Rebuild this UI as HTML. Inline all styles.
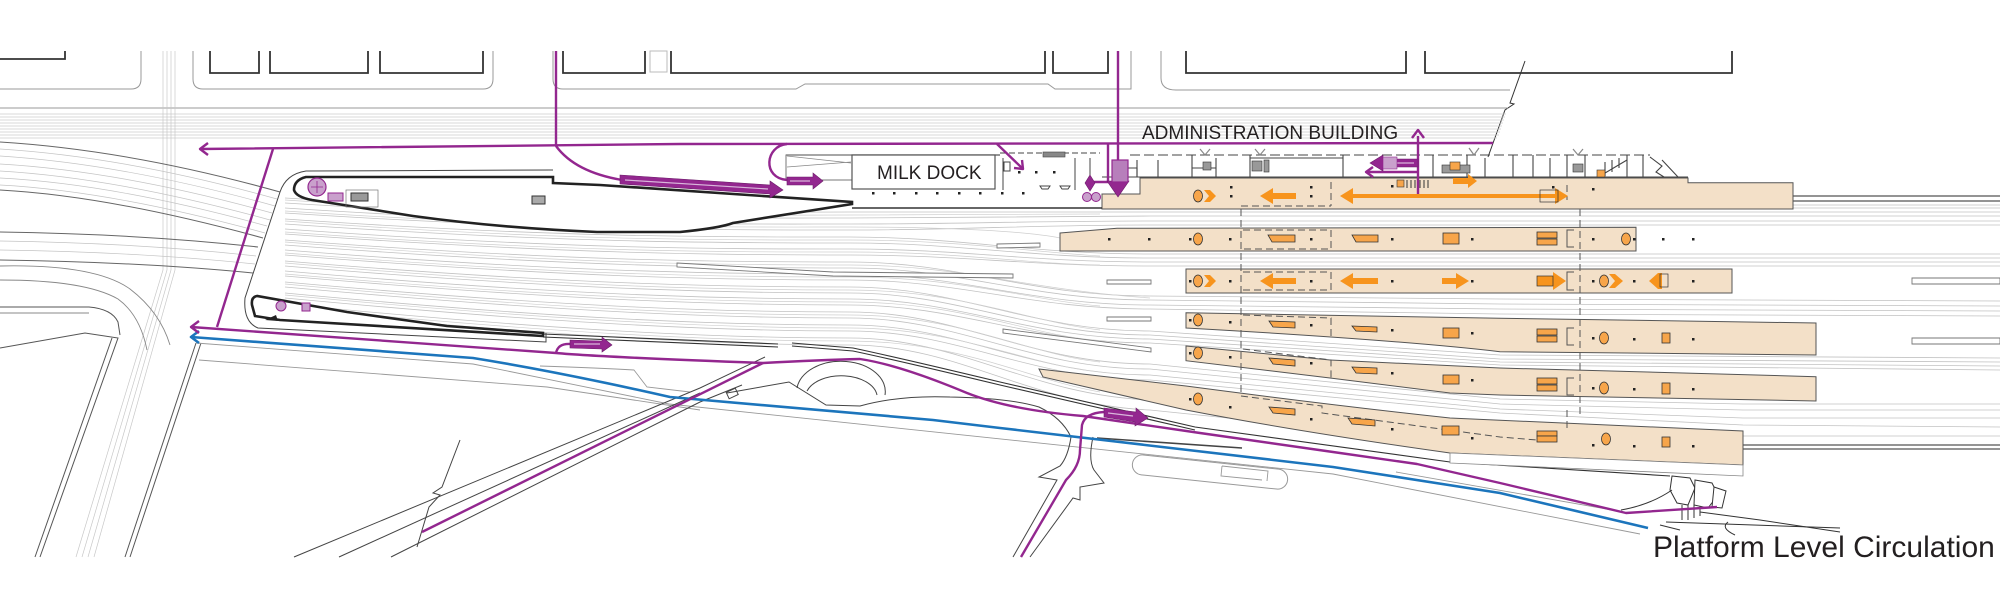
<!DOCTYPE html>
<html><head><meta charset="utf-8"><style>
html,body{margin:0;padding:0;background:#fff;}
svg{display:block}
text{font-family:"Liberation Sans",Arial,sans-serif;fill:#231f20}
</style></head><body>
<svg width="2000" height="593" viewBox="0 0 2000 593" xmlns="http://www.w3.org/2000/svg">
<rect width="2000" height="593" fill="#fff"/>

<!-- top city blocks -->
<g fill="none" stroke="#333" stroke-width="1.8">
<path d="M0,59 H65 V51"/>
<path d="M210,51 V73 H259 V51"/>
<path d="M270,51 V73 H368 V51"/>
<path d="M380,51 V73 H483 V51"/>
<path d="M563,51 V73 H645 V51"/>
<path d="M671,51 V73 H1045 V51"/>
<path d="M1053,51 V73 H1108 V51"/>
<path d="M1186,51 V73 H1406 V51"/>
<path d="M1425,51 V73 H1732 V51"/>
</g>
<rect x="650" y="51" width="17" height="21" fill="none" stroke="#bbb"/>
<g fill="none" stroke="#999" stroke-width="1">
<path d="M0,89 H131 Q141,89 141,79 V51"/>
<path d="M193,51 V79 Q193,89 203,89 H483 Q493,89 493,79 V51"/>
<path d="M553,51 V79 Q553,89 563,89 H796 L805,84 H1048 L1055,89 H1131 V51"/>
<path d="M1161,51 V78 Q1161,90 1176,90 H1510"/>
</g>
<path d="M1525,61 L1510,103 L1514,104 L1505,110 L1488,157" stroke="#333" fill="none" stroke-width="1"/>

<!-- road lanes -->
<path d="M0,108 H1508" stroke="#999" stroke-width="1"/>
<g stroke="#ccc" stroke-width="0.7">
<path d="M0,114 H1506"/><path d="M0,117 H1505"/><path d="M0,120 H1504"/><path d="M0,123 H1503"/>
<path d="M0,126 H1502"/><path d="M0,129 H1501"/><path d="M0,132 H1500"/><path d="M0,135 H1499"/><path d="M0,138 H1497"/>
</g>

<!-- vertical road light lines -->
<g stroke="#c8c8c8" stroke-width="0.7" fill="none">
<path d="M163,51 V270 L76,557"/><path d="M167,51 V270 L82,557"/><path d="M171,51 V270 L88,557"/><path d="M175,51 V270 L94,557"/>
</g>

<!-- road bands (overpass) -->
<g fill="none" stroke="#c4c4c4" stroke-width="0.7">
<path d="M0,149 Q127,157 277,199"/><path d="M0,156 Q124,164 275,206"/><path d="M0,164 Q121,171 272,213"/>
<path d="M0,171 Q118,178 270,220"/><path d="M0,178 Q115,184 267,226"/><path d="M0,185 Q112,191 265,233"/>
<path d="M0,241 Q140,243 256,256"/><path d="M0,250 Q140,252 255,264"/>
</g>
<g fill="none" stroke="#666" stroke-width="1">
<path d="M0,142 Q130,150 280,192"/><path d="M0,190 Q110,196 263,238"/>
<path d="M0,232 Q140,234 258,247"/><path d="M0,260 Q140,262 253,273"/>
</g>

<!-- bottom-left roads -->
<g fill="none" stroke="#888" stroke-width="0.9">
<path d="M0,266 Q95,264 130,289 Q160,312 170,345"/>
<path d="M0,280 Q85,280 118,299 Q140,315 147,350"/>
<path d="M0,313 H89"/>
</g>
<g fill="none" stroke="#555" stroke-width="1">
<path d="M0,307 H89 Q112,309 118,322 L120,335"/>
<path d="M0,348 L85,333 L118,338 L40,557"/>
<path d="M112,338 L35,557"/>
<path d="M196,343 L125,557"/><path d="M201,343 L130,557"/>
</g>

<!-- track fan -->
<g fill="none" stroke="#c2c2c2" stroke-width="0.8">
<path d="M285,198 C560,215 720,212 850,212 C960,212 1030,212 1150,212 L2000,212"/>
<path d="M285,203 C560,220 720,218 850,218 C960,218 1030,216 1150,216 L2000,216"/>
<path d="M285,208 C560,226 720,224 850,224 C960,224 1030,221 1150,221 L2000,221"/>
<path d="M285,213 C560,231 720,230 850,230 C960,230 1030,225 1150,225 L2000,225"/>
<path d="M285,219 C560,238 720,237 850,237 C960,237 1030,254 1150,254 L2000,254"/>
<path d="M285,224 C560,243 720,243 850,243 C960,243 1030,258 1150,258 L2000,258"/>
<path d="M285,229 C560,249 720,249 850,249 C960,249 1030,262 1150,262 L2000,262"/>
<path d="M285,234 C560,254 720,255 850,255 C960,255 1030,266 1150,266 L2000,266"/>
<path d="M285,240 C560,261 720,262 850,262 C960,262 1030,296 1150,296 L1500,299 L2000,301"/>
<path d="M285,245 C560,266 720,268 850,268 C960,268 1030,300 1150,300 L1500,304 L2000,306"/>
<path d="M285,250 C560,272 720,274 850,274 C960,274 1030,305 1150,305 L1500,309 L2000,311"/>
<path d="M285,255 C560,277 720,280 850,280 C960,280 1030,309 1150,309 L1500,314 L2000,316"/>
<path d="M285,261 C560,284 720,287 850,287 C960,287 1030,331 1150,331 L1500,355 L2000,358"/>
<path d="M285,266 C560,289 720,293 850,293 C960,293 1030,335 1150,335 L1500,359 L2000,362"/>
<path d="M285,271 C560,295 720,299 850,299 C960,299 1030,339 1150,339 L1500,362 L2000,366"/>
<path d="M285,276 C560,300 720,305 850,305 C960,305 1030,343 1150,343 L1500,365 L2000,370"/>
<path d="M285,282 C560,307 720,312 850,312 C960,312 1030,364 1150,364 L1500,399 L1743,404 L2000,404"/>
<path d="M285,287 C560,312 720,318 850,318 C960,318 1030,369 1150,369 L1500,404 L1743,410 L2000,410"/>
<path d="M285,293 C560,319 720,325 850,325 C960,325 1030,375 1150,375 L1500,409 L1743,418 L2000,418"/>
<path d="M285,298 C560,324 720,331 850,331 C960,331 1030,380 1150,380 L1500,413 L1743,425 L2000,427"/>
<path d="M285,304 C560,331 720,338 850,338 C960,338 1030,395 1150,400 L1500,440 L1743,436 L2000,436"/>
<path d="M285,310 C560,337 720,345 850,345 C960,345 1030,405 1150,410 L1500,446 L1743,449"/>
<path d="M1793,205 H2000"/><path d="M1793,208 H2000"/>
</g>
<g fill="none" stroke="#cfcfcf" stroke-width="0.7">
<path d="M285,200 C560,218 720,215 850,215 C960,215 1030,214 1100,214"/>
<path d="M285,211 C560,229 720,227 850,227 C960,227 1030,232 1060,238"/>
<path d="M285,221 C560,241 720,240 850,240 C960,240 1030,252 1100,256"/>
<path d="M285,232 C560,252 720,252 850,252 C960,252 1030,264 1100,265"/>
<path d="M285,242 C560,264 720,265 850,265 C960,265 1030,290 1150,298"/>
<path d="M285,253 C560,275 720,277 850,277 C960,277 1030,300 1100,306"/>
<path d="M285,263 C560,287 720,290 850,290 C960,290 1030,322 1100,330"/>
<path d="M285,274 C560,298 720,302 850,302 C960,302 1030,335 1100,341"/>
<path d="M285,284 C560,310 720,315 850,315 C960,315 1030,355 1100,362"/>
<path d="M285,295 C560,321 720,328 850,328 C960,328 1030,366 1100,372"/>
<path d="M285,307 C560,334 720,341 850,341 C960,341 1030,380 1100,392"/>
</g>

<!-- platform stubs -->
<g fill="#fff" stroke="#777" stroke-width="0.9">
<path d="M677,263 L833,272 L1013,274 L1013,278 L833,276 L677,267 Z"/>
<path d="M997,244 L1040,243 L1040,247 L997,248 Z"/>
<path d="M1107,280 H1151 V284 H1107 Z"/>
<path d="M1107,317 H1151 V321 H1107 Z"/>
<path d="M1003,329 L1151,348 L1151,352 L1003,333 Z"/>
<path d="M1912,278 H2000 V284 H1912 Z"/>
<path d="M1912,338 H2000 V344 H1912 Z"/>
</g>
<g stroke="#555" stroke-width="1.2" fill="none">
<path d="M1793,196 H2000"/><path d="M1793,201 H2000"/>
<path d="M1743,445 H2000"/><path d="M1743,449 H2000"/>
</g>

<!-- lower boundary line -->
<g fill="none" stroke="#333" stroke-width="1.1">
<path d="M543,334 L778,344"/><path d="M543,337 L778,347"/>
<path d="M792,343 L853,348 Q900,358 1000,382 L1195,427 L1450,462 L1670,476"/>
<path d="M792,346 L853,351 Q900,361 1000,385 L1195,430"/>
</g>

<!-- platforms -->
<g fill="#f3e0c8" stroke="#555" stroke-width="1">
<path d="M1102,194 H1140 V178 H1688 V182.7 H1793 V209 H1102 Z"/>
<path d="M1060,233 L1117,228.3 L1636,227.3 V251 H1060 Z"/>
<path d="M1186,269 H1732 V293 H1186 Z"/>
<path d="M1186,312.7 L1500,318.3 L1816,323 L1816,355 L1500,351.7 Q1400,340 1186,328 Z"/>
<path d="M1186,346 L1330,360 L1500,368 L1816,376.7 L1816,401 L1500,395 L1450,393 L1330,378 L1186,360.7 Z"/>
<path d="M1039,369 L1186,386 Q1330,405 1450,418 L1743,431 L1743,465 L1450,453 Q1300,432 1186,410 L1043,377 Z"/>
</g>
<path d="M1450,453 L1743,465 L1743,476 L1450,463 Z" fill="#fff" stroke="#888" stroke-width="0.8"/>

<!-- dashed overlays -->
<g fill="none" stroke="#555" stroke-width="1" stroke-dasharray="7 4">
<path d="M1241,209 V396 L1322,406 V413 L1500,437 L1537,440"/>
<path d="M1241,206 H1331"/>
<path d="M1331,182 V206"/>
<path d="M1243,230 H1331 V249 H1243"/>
<path d="M1243,272 H1331 V290 H1243"/>
<path d="M1243,315 L1331,318 V336"/>
<path d="M1243,349 L1331,360 V378"/>
<path d="M1580,209 V415"/>
<path d="M1567,410 V432"/>
<path d="M1567,185 V200"/>
</g>
<g fill="none" stroke="#555" stroke-width="1">
<path d="M1574,230 H1567 V247 H1574"/>
<path d="M1574,272 H1567 V290 H1574"/>
<path d="M1574,328 H1567 V345 H1574"/>
<path d="M1574,378 H1567 V395 H1574"/>
</g>

<!-- upper island -->
<path d="M553,170 L306,171 Q286,174 280,192 L245,298 Q243,322 258,328 L546,342 V333" fill="none" stroke="#444" stroke-width="1"/>
<path d="M553,177 L306,177 Q294,180 294,190 Q296,197 312,200 L413,216 Q500,228 597,232 L680,232 Q720,228 733,223 L852,204 L852,202 L600,185 L553,183 Z" fill="#fff" stroke="#222" stroke-width="2.6"/>
<circle cx="317" cy="187" r="9" fill="#c9a0cc" stroke="#93278f" stroke-width="1.2"/>
<path d="M311,187 H323 M317,181 V193" stroke="#93278f" stroke-width="0.8"/>
<rect x="328" y="193" width="15" height="8" fill="#c9a0cc" stroke="#93278f"/>
<rect x="351" y="193" width="17" height="8" fill="#999" stroke="#333"/>
<rect x="346" y="190" width="32" height="17" fill="none" stroke="#777" stroke-width="0.7"/>
<rect x="532" y="196" width="13" height="8" fill="#aaa" stroke="#333"/>

<!-- lower island -->
<path d="M257,296 Q251,297 252,305 L255,316 L280,320 L543,336 L543,333 L447,326 L347,312 Z" fill="#fff" stroke="#222" stroke-width="2.6"/>
<circle cx="281" cy="306" r="5" fill="#c9a0cc" stroke="#93278f"/>
<rect x="302" y="303" width="8" height="8" fill="#c9a0cc" stroke="#93278f"/>
<path d="M265,320 L276,315 L278,321 Z" fill="#222"/>

<!-- milk dock area -->
<path d="M852,208 H1102" stroke="#333" stroke-width="1.5"/>
<path d="M786,155 H1000" stroke="#555" stroke-width="1.2"/>
<rect x="786" y="155" width="66" height="25" fill="none" stroke="#777"/>
<path d="M787,156 L851,163 M787,167 L851,162" stroke="#888" stroke-width="0.8"/>
<rect x="852" y="155" width="143" height="34" fill="#fff" stroke="#555" stroke-width="1.2"/>
<text x="877" y="179" font-size="19">MILK DOCK</text>
<g fill="#222">
<rect x="872" y="192" width="2.5" height="2.5"/><rect x="893" y="192" width="2.5" height="2.5"/><rect x="915" y="192" width="2.5" height="2.5"/>
<rect x="936" y="192" width="2.5" height="2.5"/><rect x="958" y="192" width="2.5" height="2.5"/><rect x="979" y="192" width="2.5" height="2.5"/>
<rect x="1001" y="192" width="2.5" height="2.5"/><rect x="1022" y="192" width="2.5" height="2.5"/>
<rect x="1018" y="171" width="2.5" height="2.5"/><rect x="1035" y="171" width="2.5" height="2.5"/><rect x="1053" y="171" width="2.5" height="2.5"/>
</g>
<g fill="none" stroke="#444" stroke-width="1">
<path d="M1000,153 H1100" stroke-dasharray="6 3"/>
<path d="M1003,158 V190"/>
<rect x="1004" y="162" width="6" height="9"/>
<path d="M1075,158 V190 M1090,158 V180"/>
<path d="M1040,186 H1050 L1048,189 H1042 Z M1060,186 H1070 L1068,189 H1062 Z"/>
</g>
<rect x="1043" y="152" width="22" height="5" fill="#888" stroke="#444" stroke-width="0.6"/>

<!-- admin building -->
<g fill="none" stroke="#444" stroke-width="1.1">
<path d="M1130,155 H1650" stroke-dasharray="10 4"/>
<path d="M1102,177 H1688"/>
<path d="M1137,160 V177 M1158,160 V177 M1192,155 V177 M1216,158 V177 M1250,155 V177 M1343,155 V177 M1433,155 V177 M1467,155 V177 M1485,158 V177 M1513,155 V177 M1533,155 V177 M1550,158 V177 M1567,155 V177 M1585,155 V177 M1627,155 V177 M1643,155 V177"/>
<path d="M1192,168 H1216 M1250,158 H1343"/>
<path d="M1600,176 L1627,160 M1605,162 V176 M1612,160 V172 M1619,158 V168"/>
<path d="M1650,157 L1662,166 L1656,172 L1664,177 M1662,160 L1678,177"/>
<path d="M1116,168 H1137 V177"/>
</g>
<g fill="#999" stroke="#333" stroke-width="0.6">
<rect x="1203" y="162" width="8" height="8"/><rect x="1252" y="161" width="10" height="10"/><rect x="1264" y="160" width="5" height="12"/>
<rect x="1442" y="165" width="28" height="8"/><rect x="1573" y="164" width="10" height="8"/>
</g>
<g fill="none" stroke="#888" stroke-width="1.2">
<path d="M1200,149 L1205,155 L1210,149"/><path d="M1255,149 L1260,155 L1265,149"/><path d="M1469,148 L1474,155 L1479,148"/><path d="M1573,149 L1578,155 L1583,149"/>
</g>
<rect x="1450" y="162" width="10" height="8" fill="#f7a54a" stroke="#333" stroke-width="0.6"/>
<rect x="1597" y="170" width="8" height="7" fill="#f7a54a" stroke="#333" stroke-width="0.6"/>
<rect x="1397" y="180" width="7" height="7" fill="#f7a54a" stroke="#333" stroke-width="0.6"/>
<path d="M1407,180 V188 M1411,180 V188 M1415,180 V188 M1420,180 V188 M1424,180 V188 M1428,180 V188" stroke="#333" stroke-width="1"/>
<text x="1142" y="139" font-size="19">ADMINISTRATION BUILDING</text>

<!-- road lines lower area -->
<g fill="none" stroke="#999" stroke-width="0.9">
<path d="M196,343 L473,364 Q540,378 669,404 L1333,474 L1640,534"/>
<path d="M199,360 L547,387 Q600,395 700,410"/>
<path d="M540,366 Q600,368 634,370 L647,387 L690,392"/>
<path d="M1396,472 L1612,510"/>
</g>
<g fill="none" stroke="#444" stroke-width="1">
<path d="M294,557 L700,388 L765,357"/>
<path d="M339,557 L700,393"/>
<path d="M391,557 L700,402 L742,385"/>
<path d="M460,440 L442,487 L433,493 L440,495 L429,507 L417,547"/>
<path d="M727,393 L789,382 L826,405 L860,406 Q900,395 950,397 Q1010,398 1039,407 Q1062,418 1071,437"/>
<path d="M797,388 A44,30 0 0 1 885,395"/>
<path d="M807,391 A36,22 0 0 1 877,395"/>
<rect x="727" y="390" width="10" height="7" transform="rotate(-25 732 393)"/>
<path d="M1071,437 Q1068,457 1060,466 L1039,477 L1057,480 L1013,557"/>
<path d="M1093,437 Q1088,460 1094,470 L1104,483 L1080,487 L1080,500 L1073,498 L1030,557"/>
<path d="M1097,438 L1242,448" stroke-width="1.6"/>
</g>
<rect x="1132" y="462" width="156" height="20" rx="10" transform="rotate(6 1210 472)" fill="none" stroke="#999" stroke-width="1"/>
<path d="M1222,466 L1268,471 L1267,481 M1222,466 L1221,476 L1262,480" fill="none" stroke="#999" stroke-width="0.9"/>

<!-- stair structure bottom right -->
<g fill="#fff" stroke="#333" stroke-width="1">
<path d="M1672,476 L1690,478 L1695,488 L1688,505 L1677,503 L1670,490 Z"/>
<path d="M1695,480 L1712,483 L1718,495 L1708,508 L1694,505 Z"/>
<path d="M1714,487 L1726,491 L1722,508 L1712,507 Z"/>
</g>
<g fill="none" stroke="#333" stroke-width="1">
<path d="M1621,510 Q1650,505 1672,490"/>
<path d="M1666,522 L1840,528"/>
<path d="M1700,512 L1760,520 L1840,532"/>
<path d="M1660,525 L1680,530"/>
<path d="M1728,522 Q1720,528 1735,535"/>
<path d="M1682,505 V520 M1688,505 V520 M1694,505 V518 M1700,506 V516"/>
</g>

<!-- blue -->
<g fill="none" stroke="#1c75bc" stroke-width="2.6" stroke-linejoin="round">
<path d="M191,337 L473,358 Q560,372 670,397 L933,420 L1000,428 L1333,467 L1500,493 L1648,528"/>
<path d="M199,331 L191,337 L199,343"/>
</g>

<!-- purple lines -->
<g fill="none" stroke="#93278f" stroke-width="2.4" stroke-linejoin="round">
<path d="M200,149 L680,144 L1493,143"/>
<path d="M208,143 L200,149 L208,155"/>
<path d="M556,51 V145"/>
<path d="M556,146 Q575,172 622,180"/>
<path d="M273,149 L217,327"/>
<path d="M787,144 C765,146 762,178 787,180"/>
<path d="M997,144 L1022,168"/>
<path d="M1014,168 L1023,169 L1022,160"/>
<path d="M1118,51 V185"/>
<path d="M1108,143 V182 H1092"/>
<path d="M1418,136 V195"/>
<path d="M1412,138 L1418,130 L1424,138"/>
<path d="M1418,172 H1368"/>
<path d="M1373,167 L1366,172 L1373,177"/>
<path d="M191,327 L556,353 Q600,357 763,363 Q820,360 860,359 Q900,365 967,393 Q1010,410 1083,416 L1200,433 L1333,452 L1417,464 L1500,483 L1626,513 L1717,507"/>
<path d="M199,321 L191,327 L199,333"/>
<path d="M556,353 Q558,343 571,344"/>
<path d="M763,363 L422,532"/>
<path d="M1021,557 L1066,480 Q1080,466 1080,450 L1082,425 Q1085,413 1104,412"/>
</g>
<!-- purple thick arrows -->
<g fill="#93278f" stroke="#6d1d6a" stroke-width="0.6">
<path d="M620,175 L770,185 L770,181 L783,190 L770,198 L770,194 L620,184 Z"/>
<path d="M787,177 L813,177 L813,173 L823,181 L813,189 L813,185 L787,185 Z"/>
<path d="M570,340 L602,341 L602,337 L612,345 L602,352 L602,349 L570,348 Z"/>
<path d="M1104,408 L1136,412 L1136,408 L1148,418 L1135,426 L1135,422 L1104,417 Z"/>
<path d="M1370,163 L1383,155 L1383,159 L1418,159 L1418,167 L1383,167 L1383,171 Z"/>
<path d="M1107,181 L1129,181 L1118,197 Z"/>
<path d="M1090,175 L1095,183 L1090,191 L1085,183 Z"/>
</g>
<g stroke="#d9b6db" stroke-width="1.2" fill="none">
<path d="M625,180 L768,189"/><path d="M790,181 H810"/><path d="M574,344 H600"/><path d="M1108,413 L1133,416"/><path d="M1386,163 H1414"/>
</g>
<rect x="1112" y="160" width="16" height="22" fill="#b77fbb" stroke="#93278f" stroke-width="1.2"/>
<rect x="1383" y="157" width="14" height="12" fill="#c9a0cc" stroke="#93278f" stroke-width="0.6"/>
<circle cx="1087" cy="197" r="4.5" fill="#c9a0cc" stroke="#93278f"/>
<circle cx="1096" cy="197" r="4.5" fill="#c9a0cc" stroke="#93278f"/>

<!-- orange arrows -->
<g fill="#f7941d">
<polygon points="1204,190 1210,190 1216,196 1210,202 1204,202 1209,196"/>
<polygon points="1260,196 1273,188 1273,193 1296,193 1296,199 1273,199 1273,204"/>
<polygon points="1340,196 1353,188 1353,194 1555,194 1555,188 1568,196 1555,204 1555,198 1353,198 1353,204"/>
<polygon points="1453,178 1468,178 1468,174 1477,181 1468,188 1468,184 1453,184"/>
<polygon points="1204,275 1210,275 1216,281 1210,287 1204,287 1209,281"/>
<polygon points="1260,281 1273,273 1273,278 1296,278 1296,284 1273,284 1273,289"/>
<polygon points="1340,281 1353,273 1353,278 1378,278 1378,284 1353,284 1353,289"/>
<polygon points="1442,278 1456,278 1456,273 1469,281 1456,289 1456,284 1442,284"/>
<polygon points="1537,276 1553,276 1553,272 1566,281 1553,290 1553,286 1537,286"/>
<polygon points="1609,274 1615,274 1623,281 1615,288 1609,288 1615,281"/>
<polygon points="1649,281 1658,273 1662,273 1662,289 1658,289"/>
</g>
<g fill="none" stroke="#333" stroke-width="0.7">
<rect x="1540" y="190" width="18" height="12"/><rect x="1537" y="276" width="16" height="10"/><rect x="1660" y="274" width="8" height="13"/>
</g>

<!-- orange elements -->
<g fill="#f7a54a" stroke="#333" stroke-width="0.8">
<ellipse cx="1198" cy="196" rx="4.5" ry="6"/><ellipse cx="1198" cy="239" rx="4.5" ry="6"/><ellipse cx="1626" cy="239" rx="4.5" ry="6"/>
<ellipse cx="1198" cy="281" rx="4.5" ry="6"/><ellipse cx="1604" cy="281" rx="4.5" ry="6"/>
<ellipse cx="1198" cy="320" rx="4.5" ry="6"/><ellipse cx="1604" cy="338" rx="4.5" ry="6"/>
<ellipse cx="1198" cy="353" rx="4.5" ry="6"/><ellipse cx="1604" cy="388" rx="4.5" ry="6"/>
<ellipse cx="1198" cy="399" rx="4.5" ry="6"/><ellipse cx="1606" cy="439" rx="4.5" ry="6"/>
<polygon points="1268,235 1295,235 1295,242 1272,242"/><polygon points="1352,235 1378,235 1378,242 1356,242"/>
<rect x="1443" y="233" width="16" height="11"/><rect x="1537" y="232" width="20" height="6"/><rect x="1537" y="239" width="20" height="6"/>
<polygon points="1269,321 1295,322 1295,328 1273,327"/><polygon points="1352,326 1377,327 1377,332 1356,331"/>
<rect x="1443" y="328" width="16" height="10"/><rect x="1537" y="329" width="20" height="6"/><rect x="1537" y="336" width="20" height="6"/><rect x="1662" y="333" width="8" height="10"/>
<polygon points="1269,358 1295,360 1295,366 1273,364"/><polygon points="1352,367 1377,368 1377,374 1356,373"/>
<rect x="1443" y="375" width="16" height="9"/><rect x="1537" y="378" width="20" height="6"/><rect x="1537" y="385" width="20" height="6"/><rect x="1662" y="383" width="8" height="11"/>
<polygon points="1269,407 1295,409 1295,415 1273,413"/><polygon points="1348,418 1375,420 1375,426 1352,424"/>
<rect x="1442" y="426" width="17" height="9"/><rect x="1537" y="431" width="20" height="5"/><rect x="1537" y="436" width="20" height="6"/><rect x="1662" y="437" width="8" height="10"/>
</g>

<!-- dots -->
<g fill="#222">
<rect x="1230" y="186" width="2.5" height="2.5"/><rect x="1230" y="195" width="2.5" height="2.5"/><rect x="1310" y="186" width="2.5" height="2.5"/><rect x="1310" y="195" width="2.5" height="2.5"/>
<rect x="1391" y="185" width="2.5" height="2.5"/><rect x="1552" y="186" width="2.5" height="2.5"/><rect x="1592" y="188" width="2.5" height="2.5"/>
<rect x="1108" y="238" width="2.5" height="2.5"/><rect x="1148" y="238" width="2.5" height="2.5"/><rect x="1189" y="238" width="2.5" height="2.5"/><rect x="1229" y="238" width="2.5" height="2.5"/>
<rect x="1310" y="238" width="2.5" height="2.5"/><rect x="1391" y="238" width="2.5" height="2.5"/><rect x="1471" y="238" width="2.5" height="2.5"/><rect x="1592" y="238" width="2.5" height="2.5"/>
<rect x="1633" y="238" width="2.5" height="2.5"/><rect x="1662" y="238" width="2.5" height="2.5"/><rect x="1692" y="238" width="2.5" height="2.5"/>
<rect x="1189" y="280" width="2.5" height="2.5"/><rect x="1229" y="280" width="2.5" height="2.5"/><rect x="1310" y="280" width="2.5" height="2.5"/><rect x="1391" y="280" width="2.5" height="2.5"/>
<rect x="1471" y="280" width="2.5" height="2.5"/><rect x="1592" y="280" width="2.5" height="2.5"/><rect x="1633" y="280" width="2.5" height="2.5"/><rect x="1692" y="280" width="2.5" height="2.5"/>
<rect x="1189" y="319" width="2.5" height="2.5"/><rect x="1229" y="321" width="2.5" height="2.5"/><rect x="1310" y="324" width="2.5" height="2.5"/><rect x="1391" y="329" width="2.5" height="2.5"/>
<rect x="1471" y="332" width="2.5" height="2.5"/><rect x="1592" y="337" width="2.5" height="2.5"/><rect x="1633" y="338" width="2.5" height="2.5"/><rect x="1692" y="338" width="2.5" height="2.5"/>
<rect x="1189" y="352" width="2.5" height="2.5"/><rect x="1229" y="356" width="2.5" height="2.5"/><rect x="1310" y="362" width="2.5" height="2.5"/><rect x="1391" y="372" width="2.5" height="2.5"/>
<rect x="1471" y="379" width="2.5" height="2.5"/><rect x="1592" y="387" width="2.5" height="2.5"/><rect x="1633" y="388" width="2.5" height="2.5"/><rect x="1692" y="388" width="2.5" height="2.5"/>
<rect x="1189" y="398" width="2.5" height="2.5"/><rect x="1229" y="406" width="2.5" height="2.5"/><rect x="1310" y="418" width="2.5" height="2.5"/><rect x="1391" y="428" width="2.5" height="2.5"/>
<rect x="1471" y="437" width="2.5" height="2.5"/><rect x="1592" y="444" width="2.5" height="2.5"/><rect x="1633" y="445" width="2.5" height="2.5"/><rect x="1692" y="445" width="2.5" height="2.5"/>
</g>

<text x="1653" y="557" font-size="30">Platform Level Circulation</text>
</svg>
</body></html>
